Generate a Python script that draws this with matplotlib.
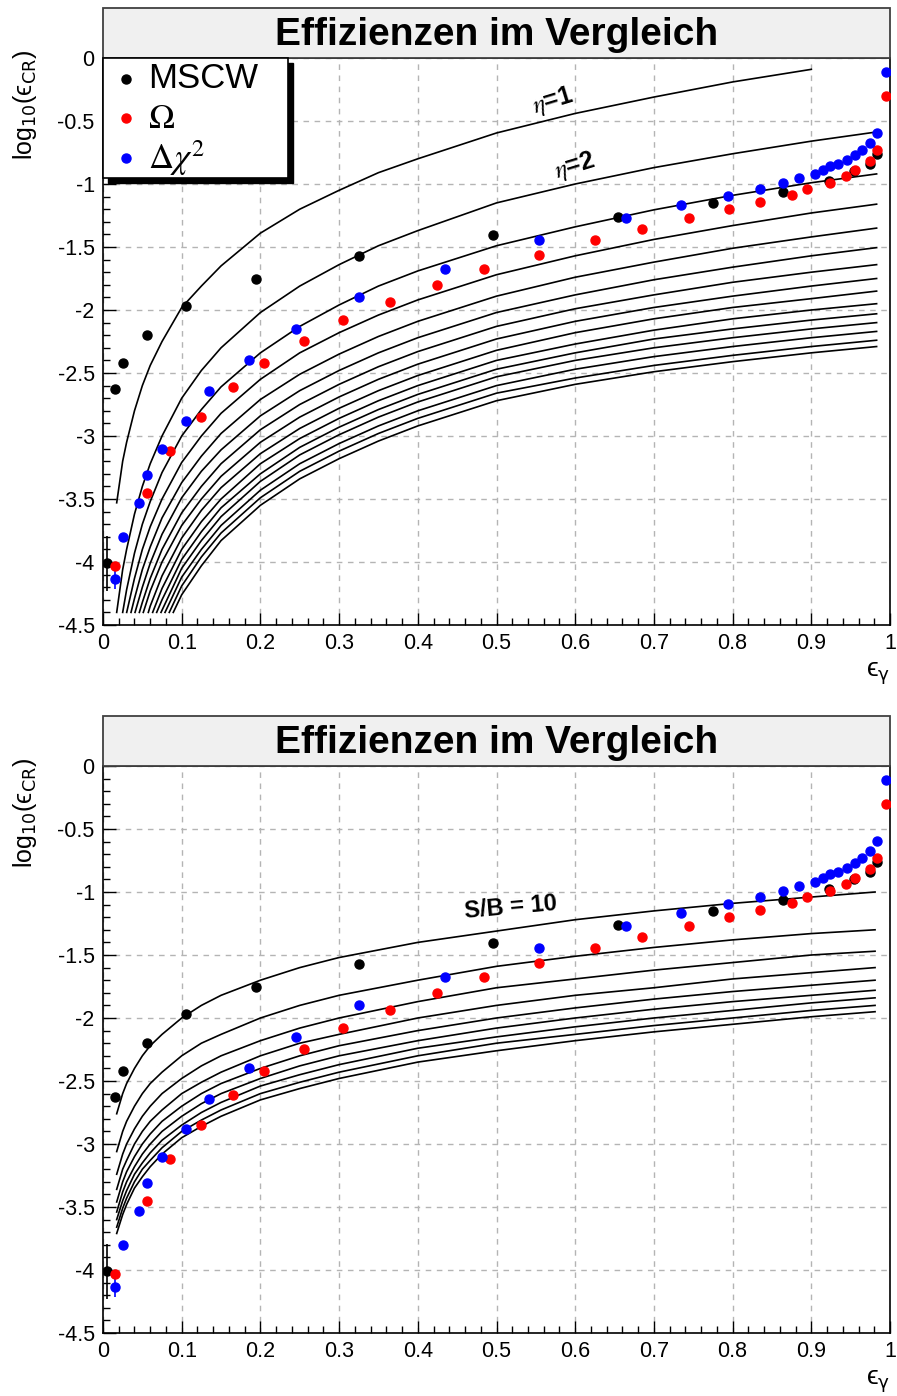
import numpy as np
import matplotlib.pyplot as plt
from matplotlib.patches import Rectangle
from matplotlib.ticker import MultipleLocator

plt.rcParams['font.family'] = ['Liberation Sans', 'DejaVu Sans']
plt.rcParams['axes.unicode_minus'] = False
plt.rcParams['mathtext.fontset'] = 'dejavusans'

W, H = 897, 1396
nan = np.nan

# ---------------------------------------------------------------------------
# measured cut efficiencies: gamma efficiency vs log10(cosmic ray efficiency)
# ---------------------------------------------------------------------------
mscw_eg = [0.005, 0.015, 0.025, 0.0555, 0.1055, 0.195, 0.325, 0.495, 0.654,
           0.775, 0.864, 0.923, 0.954, 0.974, 0.984]
mscw_cr = [-4.01, -2.63, -2.42, -2.20, -1.966, -1.756, -1.569, -1.405, -1.26,
           -1.153, -1.062, -0.98, -0.90, -0.84, -0.76]
mscw_err = [0.22] + [0.0] * 14

omega_eg = [0.0152, 0.0555, 0.085, 0.125, 0.165, 0.2046, 0.255, 0.305, 0.365,
            0.424, 0.4845, 0.554, 0.625, 0.685, 0.745, 0.795, 0.835, 0.875,
            0.8945, 0.924, 0.944, 0.955, 0.9746, 0.984, 0.9945]
omega_cr = [-4.03, -3.455, -3.12, -2.847, -2.613, -2.423, -2.246, -2.08, -1.939,
            -1.804, -1.675, -1.566, -1.444, -1.36, -1.267, -1.199, -1.14, -1.09,
            -1.043, -0.993, -0.94, -0.885, -0.817, -0.73, -0.30]

chi2_eg = [0.0152, 0.025, 0.046, 0.0555, 0.075, 0.1055, 0.135, 0.1855, 0.245,
           0.325, 0.4346, 0.554, 0.665, 0.735, 0.7946, 0.835, 0.8636, 0.884,
           0.905, 0.9145, 0.924, 0.934, 0.945, 0.955, 0.9645, 0.974, 0.984,
           0.9945]
chi2_cr = [-4.137, -3.80, -3.535, -3.31, -3.10, -2.878, -2.64, -2.40, -2.153,
           -1.90, -1.672, -1.444, -1.273, -1.168, -1.093, -1.037, -0.99, -0.955,
           -0.917, -0.887, -0.86, -0.838, -0.81, -0.773, -0.734, -0.672, -0.593,
           -0.109]
chi2_err = [0.08] + [0.0] * 27

# ---------------------------------------------------------------------------
# reference curves, upper panel: eta = 1 ... 15
# ---------------------------------------------------------------------------
eta_x = [0.025, 0.03, 0.04, 0.05, 0.06, 0.075, 0.1, 0.125, 0.15, 0.2, 0.25,
         0.3, 0.35, 0.4, 0.5, 0.6, 0.7, 0.8, 0.9, 0.983]
eta_start_x = [0.0174, 0.0174, 0.025, 0.0301, 0.0356, 0.0407, 0.0462, 0.0512,
               0.0576, 0.0631, 0.0682, 0.0737, 0.0788, 0.0842, 0.0893]
eta_start_y = [-3.53] + [-4.40] * 14
eta_curves = [
    [-3.20, -3.05, -2.80, -2.60, -2.44, -2.25, -1.98, -1.81, -1.65, -1.39, -1.20,
     -1.05, -0.91, -0.80, -0.595, -0.44, -0.31, -0.19, -0.09, nan],
    [-4.06, -3.90, -3.62, -3.40, -3.22, -3.00, -2.70, -2.48, -2.30, -2.02, -1.81,
     -1.64, -1.49, -1.37, -1.15, -1.00, -0.87, -0.76, -0.66, -0.587],
    [nan, -4.22, -3.93, -3.70, -3.52, -3.29, -3.00, -2.79, -2.61, -2.34, -2.13,
     -1.96, -1.81, -1.69, -1.49, -1.34, -1.205, -1.09, -0.99, -0.92],
    [nan, nan, -4.13, -3.90, -3.72, -3.50, -3.21, -3.00, -2.82, -2.55, -2.34,
     -2.18, -2.04, -1.92, -1.72, -1.57, -1.44, -1.33, -1.23, -1.16],
    [nan, nan, -4.29, -4.06, -3.88, -3.65, -3.37, -3.16, -2.98, -2.71, -2.51,
     -2.35, -2.21, -2.09, -1.89, -1.74, -1.62, -1.51, -1.42, -1.35],
    [nan, nan, nan, -4.20, -4.01, -3.78, -3.49, -3.28, -3.11, -2.84, -2.64,
     -2.48, -2.34, -2.22, -2.02, -1.88, -1.76, -1.66, -1.57, -1.505],
    [nan, nan, nan, -4.32, -4.13, -3.90, -3.61, -3.40, -3.22, -2.95, -2.75,
     -2.59, -2.45, -2.33, -2.13, -1.99, -1.88, -1.78, -1.70, -1.64],
    [nan, nan, nan, nan, -4.23, -4.00, -3.71, -3.50, -3.32, -3.05, -2.85,
     -2.69, -2.55, -2.43, -2.23, -2.09, -1.98, -1.89, -1.81, -1.75],
    [nan, nan, nan, nan, -4.35, -4.11, -3.81, -3.59, -3.41, -3.14, -2.94,
     -2.78, -2.64, -2.52, -2.32, -2.18, -2.07, -1.98, -1.91, -1.85],
    [nan, nan, nan, nan, nan, -4.21, -3.90, -3.68, -3.50, -3.22, -3.02,
     -2.86, -2.72, -2.60, -2.40, -2.27, -2.16, -2.07, -2.00, -1.95],
    [nan, nan, nan, nan, nan, -4.30, -3.98, -3.76, -3.57, -3.30, -3.09,
     -2.93, -2.79, -2.67, -2.47, -2.34, -2.23, -2.15, -2.08, -2.03],
    [nan, nan, nan, nan, nan, nan, -4.05, -3.83, -3.64, -3.36, -3.15,
     -2.99, -2.85, -2.73, -2.53, -2.40, -2.30, -2.22, -2.15, -2.10],
    [nan, nan, nan, nan, nan, nan, -4.12, -3.90, -3.71, -3.43, -3.22,
     -3.06, -2.92, -2.80, -2.60, -2.47, -2.37, -2.29, -2.22, -2.17],
    [nan, nan, nan, nan, nan, nan, -4.19, -3.96, -3.77, -3.49, -3.28,
     -3.12, -2.98, -2.86, -2.66, -2.54, -2.44, -2.36, -2.29, -2.24],
    [nan, nan, nan, nan, nan, nan, -4.26, -4.03, -3.83, -3.55, -3.34,
     -3.18, -3.04, -2.92, -2.72, -2.59, -2.49, -2.41, -2.34, -2.29],
]

# ---------------------------------------------------------------------------
# reference curves, lower panel: constant S/B, starting with S/B = 10
# ---------------------------------------------------------------------------
sb_x = [0.025, 0.03, 0.04, 0.05, 0.06, 0.075, 0.1, 0.125, 0.15, 0.2, 0.25,
        0.3, 0.4, 0.5, 0.6, 0.7, 0.8, 0.9, 0.981]
sb_start_x = [0.0174] * 9
sb_start_y = [-2.76, -3.06, -3.24, -3.36, -3.46, -3.54, -3.60, -3.66, -3.71]
sb_curves = [
    [-2.60, -2.52, -2.40, -2.30, -2.22, -2.13, -2.00, -1.90, -1.82, -1.70, -1.60,
     -1.52, -1.40, -1.31, -1.22, -1.15, -1.09, -1.04, -1.00],
    [-2.90, -2.82, -2.70, -2.60, -2.52, -2.43, -2.30, -2.20, -2.13, -2.00, -1.90,
     -1.82, -1.70, -1.59, -1.51, -1.44, -1.38, -1.33, -1.30],
    [-3.08, -3.00, -2.88, -2.78, -2.70, -2.60, -2.48, -2.38, -2.30, -2.18, -2.08,
     -2.00, -1.87, -1.76, -1.69, -1.62, -1.56, -1.50, -1.47],
    [-3.20, -3.13, -3.00, -2.90, -2.82, -2.73, -2.60, -2.51, -2.43, -2.30, -2.20,
     -2.13, -2.00, -1.90, -1.82, -1.76, -1.69, -1.64, -1.60],
    [-3.30, -3.22, -3.10, -3.00, -2.92, -2.82, -2.70, -2.60, -2.52, -2.40, -2.30,
     -2.22, -2.10, -2.00, -1.92, -1.85, -1.79, -1.74, -1.70],
    [-3.38, -3.30, -3.18, -3.08, -3.00, -2.90, -2.78, -2.68, -2.60, -2.48, -2.38,
     -2.30, -2.18, -2.08, -2.00, -1.93, -1.87, -1.82, -1.78],
    [-3.45, -3.37, -3.24, -3.15, -3.07, -2.97, -2.85, -2.75, -2.67, -2.54, -2.45,
     -2.37, -2.24, -2.15, -2.07, -2.00, -1.94, -1.88, -1.84],
    [-3.51, -3.43, -3.30, -3.20, -3.13, -3.03, -2.90, -2.81, -2.73, -2.60, -2.51,
     -2.43, -2.30, -2.20, -2.13, -2.06, -2.00, -1.94, -1.90],
    [-3.56, -3.48, -3.35, -3.26, -3.18, -3.08, -2.95, -2.86, -2.78, -2.65, -2.56,
     -2.48, -2.35, -2.26, -2.18, -2.11, -2.05, -1.99, -1.95],
]

title = 'Effizienzen im Vergleich'


def fx(px):
    return px / W


def fy(py):
    return 1 - py / H


def draw_curves(ax, grid, start_x, start_y, curves):
    grid = np.asarray(grid)
    for x0, y0, vals in zip(start_x, start_y, curves):
        vals = np.asarray(vals, dtype=float)
        ok = np.isfinite(vals)
        ax.plot(np.r_[x0, grid[ok]], np.r_[y0, vals[ok]],
                color='black', linewidth=1.2, zorder=2)


def panel(fig, top_px, grid, start_x, start_y, curves):
    """ one frame with title box, reference curves and the three methods"""
    ax = fig.add_axes([fx(103), fy(top_px + 567), fx(890) - fx(103), 567 / H])

    draw_curves(ax, grid, start_x, start_y, curves)

    ax.errorbar(mscw_eg, mscw_cr, yerr=mscw_err, fmt='o', color='black',
                markersize=6.5, elinewidth=1.2, capsize=0, zorder=4)
    ax.errorbar(omega_eg, omega_cr, fmt='o', color='#ff0000',
                markersize=6.5, zorder=4)
    ax.errorbar(chi2_eg, chi2_cr, yerr=chi2_err, fmt='o', color='#0000ff',
                markersize=6.5, elinewidth=1.2, capsize=0, zorder=4)

    ax.set_xlim(0, 1)
    ax.set_ylim(-4.5, 0)
    ax.xaxis.set_major_locator(MultipleLocator(0.1))
    ax.xaxis.set_minor_locator(MultipleLocator(0.02))
    ax.yaxis.set_major_locator(MultipleLocator(0.5))
    ax.yaxis.set_minor_locator(MultipleLocator(0.1))
    ax.xaxis.set_major_formatter(lambda v, p: '%g' % round(v, 2))
    ax.yaxis.set_major_formatter(lambda v, p: '%g' % round(v, 2))
    ax.tick_params(which='both', direction='in', top=False, right=False,
                   width=1, labelsize=15.5, pad=6)
    ax.tick_params(which='major', length=9)
    ax.tick_params(which='minor', length=5)
    ax.grid(True, which='major', color='#b4b4b4', linestyle=(0, (4, 4)),
            linewidth=1)
    for s in ax.spines.values():
        s.set_linewidth(1.2)

    # title box
    fig.patches.append(Rectangle((fx(103), fy(top_px)), fx(890) - fx(103), 50 / H,
                                 transform=fig.transFigure, facecolor='#f0f0f0',
                                 edgecolor='#404040', linewidth=1.3, zorder=1))
    fig.text(fx(497), fy(top_px - 23), title, ha='center', va='center',
             fontsize=28, fontweight='bold')

    fig.text(fx(25), fy(top_px + 47), r'log$_{10}$(ϵ$_{\mathrm{CR}}$)',
             rotation=90, ha='center', va='center', fontsize=18)
    fig.text(fx(878), fy(top_px + 616), r'ϵ$_{\mathrm{\gamma}}$',
             ha='center', va='center', fontsize=19)
    return ax


fig = plt.figure(figsize=(W / 100, H / 100), dpi=100)

ax1 = panel(fig, 58, eta_x, eta_start_x, eta_start_y, eta_curves)
ax2 = panel(fig, 766, sb_x, sb_start_x, sb_start_y, sb_curves)

# curve labels
ax1.text(0.572, -0.34, r'$\eta$=1', math_fontfamily='stix', fontsize=18,
         fontweight='bold', rotation=17, ha='center', va='center')
ax1.text(0.60, -0.86, r'$\eta$=2', math_fontfamily='stix', fontsize=18,
         fontweight='bold', rotation=17, ha='center', va='center')
ax2.text(0.518, -1.125, 'S/B = 10', fontsize=17, fontweight='bold',
         rotation=5, ha='center', va='center')

# legend with drop shadow
fig.patches.append(Rectangle((fx(108), fy(183)), fx(293) - fx(108), 120 / H,
                             transform=fig.transFigure, facecolor='black',
                             edgecolor='black', zorder=5))
fig.patches.append(Rectangle((fx(103), fy(178)), fx(288) - fx(103), 120 / H,
                             transform=fig.transFigure, facecolor='white',
                             edgecolor='black', linewidth=1.2, zorder=6))
for py, col in [(79, 'black'), (118, '#ff0000'), (158, '#0000ff')]:
    fig.add_artist(plt.Line2D([fx(126)], [fy(py)], marker='o', markersize=6.5,
                              color=col, linestyle='none',
                              transform=fig.transFigure, zorder=7))
fig.text(fx(148), fy(79), 'MSCW', fontsize=25, va='center', zorder=8)
fig.text(fx(148), fy(118), r'$\Omega$', math_fontfamily='stix', fontsize=25,
         va='center', zorder=8)
fig.text(fx(148), fy(158), r'$\Delta\chi^2$', math_fontfamily='stix',
         fontsize=25, va='center', zorder=8)

fig.savefig('out.png', dpi=100)
